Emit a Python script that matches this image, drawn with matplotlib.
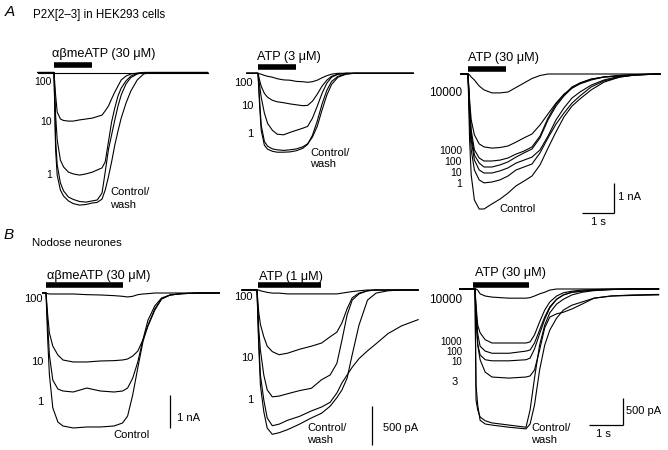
import matplotlib.pyplot as plt

plt.rcParams['font.family'] = ['Liberation Sans', 'DejaVu Sans']

W, H = 668, 450

# ---- data: time from agonist onset (s), current (nA) ----
# A  P2X[2-3] in HEK293 cells
# A1 alpha,beta-meATP 30 uM
t_a1 = [-0.5, 0, 0.05, 0.1, 0.2, 0.3, 0.45, 0.6, 0.8, 1.0, 1.2, 1.35, 1.5, 1.6, 1.7,
        1.8, 1.9, 2.0, 2.1, 2.25, 2.4, 2.6, 2.8, 3.0, 3.5, 4.8]
a1_100 = [0] * 26
a1_10 = [0, 0, -0.75, -1.32, -1.55, -1.6, -1.62, -1.62, -1.58, -1.55, -1.52, -1.47, -1.42,
         -1.28, -1.12, -0.88, -0.65, -0.45, -0.25, -0.12, -0.05, -0.02, 0, 0, 0, 0]
a1_1 = [0, 0, -1.42, -2.25, -2.92, -3.15, -3.32, -3.38, -3.42, -3.38, -3.32, -3.25, -3.18,
        -2.98, -2.32, -1.65, -1.18, -0.78, -0.52, -0.28, -0.12, -0.03, 0, 0, 0, 0]
a1_control = [0, 0, -2.58, -3.42, -3.92, -4.12, -4.28, -4.37, -4.42, -4.4, -4.35, -4.33, -4.22,
              -3.92, -3.48, -2.98, -2.42, -1.95, -1.52, -1.02, -0.62, -0.25, -0.05, 0, 0, 0]
a1_wash = [0, 0, -2.25, -3.08, -3.68, -3.95, -4.15, -4.23, -4.3, -4.32, -4.28, -4.25, -4.02,
           -3.32, -2.58, -2.08, -1.58, -1.12, -0.75, -0.38, -0.17, -0.05, 0, 0, 0, 0]

# A2 ATP 3 uM
t_a2 = [-0.35, 0, 0.05, 0.1, 0.2, 0.3, 0.45, 0.6, 0.8, 1.0, 1.2, 1.4, 1.55, 1.7, 1.85,
        2.0, 2.15, 2.3, 2.5, 2.75, 3.0, 4.85]
a2_100 = [0, 0, -0.02, -0.03, -0.07, -0.1, -0.13, -0.18, -0.22, -0.23, -0.27, -0.28, -0.3,
          -0.28, -0.23, -0.15, -0.08, -0.03, 0, 0, 0, 0]
a2_10 = [0, 0, -0.23, -0.43, -0.67, -0.8, -0.9, -0.95, -0.98, -1.02, -1.05, -1.08, -1.07,
         -0.93, -0.7, -0.43, -0.23, -0.1, -0.03, 0, 0, 0]
a2_1 = [0, 0, -0.4, -0.8, -1.33, -1.67, -1.9, -2.03, -2.05, -1.97, -1.9, -1.83, -1.77,
        -1.5, -1.1, -0.67, -0.33, -0.13, -0.03, 0, 0, 0]
a2_control = [0, 0, -1.07, -1.9, -2.4, -2.53, -2.6, -2.63, -2.63, -2.62, -2.58, -2.5, -2.37,
              -2.07, -1.6, -1.03, -0.57, -0.27, -0.1, -0.02, 0, 0]
a2_wash = [0, 0, -0.9, -1.73, -2.27, -2.43, -2.52, -2.55, -2.57, -2.55, -2.52, -2.45, -2.35,
           -2.13, -1.77, -1.23, -0.73, -0.37, -0.13, -0.03, 0, 0]

# A3 ATP 30 uM
t_a3 = [-0.22, 0, 0.05, 0.1, 0.2, 0.35, 0.5, 0.75, 1.0, 1.25, 1.5, 1.75, 2.0, 2.25, 2.5,
        2.75, 3.0, 3.25, 3.5, 3.85, 4.25, 4.75, 5.25, 6.0]
a3_10000 = [0, 0, -0.03, -0.1, -0.2, -0.4, -0.53, -0.63, -0.63, -0.6, -0.45, -0.3, -0.15,
            -0.05, 0, 0, 0, 0, 0, 0, 0, 0, 0, 0]
a3_1000 = [0, 0, -0.87, -1.53, -2.03, -2.33, -2.43, -2.47, -2.45, -2.4, -2.27, -2.13, -2.0,
           -1.7, -1.33, -0.97, -0.67, -0.47, -0.3, -0.17, -0.1, -0.07, -0.03, 0]
a3_100 = [0, 0, -1.2, -2.03, -2.7, -2.97, -3.1, -3.1, -3.03, -2.93, -2.77, -2.63, -2.5,
          -2.13, -1.53, -1.07, -0.73, -0.47, -0.33, -0.2, -0.1, -0.05, -0.02, 0]
a3_wash = [0, 0, -1.03, -1.87, -2.53, -2.8, -2.9, -2.9, -2.87, -2.8, -2.67, -2.57, -2.43,
           -2.07, -1.47, -1.0, -0.7, -0.43, -0.3, -0.17, -0.1, -0.05, -0.02, 0]
a3_10 = [0, 0, -1.37, -2.2, -2.87, -3.2, -3.3, -3.3, -3.23, -3.13, -2.97, -2.87, -2.77,
         -2.53, -2.07, -1.53, -1.13, -0.8, -0.6, -0.37, -0.2, -0.07, -0.03, 0]
a3_1 = [0, 0, -1.53, -2.53, -3.2, -3.53, -3.63, -3.6, -3.53, -3.4, -3.2, -3.1, -3.0,
        -2.63, -2.13, -1.67, -1.3, -0.97, -0.73, -0.43, -0.23, -0.1, -0.03, 0]
a3_control = [0, 0, -2.2, -3.37, -4.2, -4.5, -4.5, -4.33, -4.17, -3.97, -3.73, -3.57, -3.4,
              -3.03, -2.47, -1.93, -1.43, -1.07, -0.83, -0.53, -0.27, -0.1, -0.03, 0]

# B  Nodose neurones
# B1 alpha,beta-meATP 30 uM
t_b1 = [-0.1, 0, 0.05, 0.1, 0.2, 0.35, 0.5, 0.8, 1.2, 1.6, 2.0, 2.25, 2.4, 2.55, 2.7,
        2.85, 3.0, 3.2, 3.4, 3.65, 4.0, 4.5, 5.1]
b1_100 = [0, 0, -0.02, -0.03, -0.03, -0.03, -0.03, -0.03, -0.05, -0.06, -0.08, -0.1, -0.12,
          -0.1, -0.05, -0.03, -0.02, 0, 0, 0, 0, 0, 0]
b1_10 = [0, 0, -0.67, -1.21, -1.61, -1.88, -2.03, -2.09, -2.09, -2.06, -2.05, -2.03, -2.0,
         -1.91, -1.76, -1.42, -1.0, -0.52, -0.18, -0.06, -0.02, 0, 0]
b1_1 = [0, 0, -0.97, -1.88, -2.64, -2.91, -2.97, -3.0, -2.88, -2.97, -3.0, -2.97, -2.88,
        -2.58, -2.09, -1.42, -0.82, -0.39, -0.15, -0.06, -0.02, 0, 0]
b1_control = [0, 0, -1.42, -2.48, -3.48, -3.91, -4.03, -4.09, -4.06, -4.06, -4.03, -3.94, -3.73,
              -3.09, -2.27, -1.48, -0.97, -0.48, -0.18, -0.06, -0.02, 0, 0]

# B2 ATP 1 uM
t_b2 = [-0.44, 0, 0.05, 0.1, 0.2, 0.3, 0.45, 0.65, 0.9, 1.25, 1.6, 1.9, 2.15, 2.35, 2.5,
        2.65, 2.8, 3.0, 3.25, 3.5, 3.85, 4.25, 4.74]
b2_100 = [0, 0, 0, -0.01, -0.02, -0.03, -0.04, -0.04, -0.05, -0.05, -0.05, -0.05, -0.05,
          -0.05, -0.04, -0.03, -0.02, -0.01, 0, 0, 0, 0, 0]
b2_10 = [0, 0, -0.28, -0.44, -0.6, -0.72, -0.79, -0.83, -0.81, -0.76, -0.72, -0.68, -0.6,
         -0.54, -0.42, -0.24, -0.1, -0.04, -0.01, 0, 0, 0, 0]
b2_1 = [0, 0, -0.49, -0.77, -1.09, -1.28, -1.37, -1.36, -1.33, -1.29, -1.26, -1.15, -1.09,
        -0.94, -0.64, -0.32, -0.13, -0.05, -0.01, 0, 0, 0, 0]
b2_control = [0, 0, -0.64, -1.09, -1.41, -1.64, -1.74, -1.72, -1.67, -1.62, -1.55, -1.5, -1.44,
              -1.32, -1.19, -1.09, -0.99, -0.88, -0.78, -0.69, -0.56, -0.46, -0.38]
b2_wash = [0, 0, -0.71, -1.22, -1.56, -1.77, -1.85, -1.83, -1.79, -1.72, -1.64, -1.58, -1.49,
           -1.38, -1.28, -1.13, -0.83, -0.45, -0.13, -0.04, -0.01, 0, 0]

# B3 ATP 30 uM
t_b3 = [-0.45, 0, 0.03, 0.08, 0.15, 0.3, 0.5, 1.0, 1.5, 1.62, 1.75, 1.9, 2.05, 2.2, 2.4,
        2.6, 2.85, 3.15, 3.5, 4.0, 4.6, 5.4]
b3_10000 = [0, 0, 0, -0.02, -0.09, -0.13, -0.15, -0.17, -0.17, -0.16, -0.13, -0.09, -0.06,
            -0.02, 0, 0, 0, 0, 0, 0, 0, 0]
b3_1000 = [0, 0, -0.3, -0.67, -0.81, -0.94, -1.0, -1.0, -1.0, -0.98, -0.85, -0.61, -0.39,
           -0.24, -0.13, -0.07, -0.04, -0.02, -0.01, 0, 0, 0]
b3_100 = [0, 0, -0.37, -0.83, -1.06, -1.15, -1.19, -1.19, -1.15, -1.13, -1.0, -0.76, -0.52,
          -0.33, -0.19, -0.11, -0.06, -0.04, -0.02, -0.01, 0, 0]
b3_10 = [0, 0, -0.46, -1.02, -1.22, -1.31, -1.33, -1.33, -1.31, -1.28, -1.11, -0.83, -0.56,
         -0.35, -0.19, -0.11, -0.06, -0.04, -0.02, -0.01, 0, 0]
b3_3 = [0, 0, -0.57, -1.04, -1.31, -1.54, -1.63, -1.65, -1.63, -1.61, -1.5, -1.13, -0.72,
        -0.52, -0.46, -0.43, -0.37, -0.28, -0.17, -0.13, -0.12, -0.11]
b3_control = [0, 0, -2.06, -2.24, -2.37, -2.44, -2.48, -2.52, -2.56, -2.24, -1.65, -1.04, -0.67,
              -0.44, -0.28, -0.19, -0.11, -0.06, -0.03, -0.01, 0, 0]
b3_wash = [0, 0, -1.78, -2.15, -2.43, -2.5, -2.52, -2.56, -2.59, -2.5, -2.15, -1.5, -1.04,
           -0.76, -0.54, -0.39, -0.3, -0.24, -0.17, -0.13, -0.11, -0.1]

# agonist application (s)
app_a = (0, 1.2)
app_b1 = (0, 2.25)
app_b2 = (0.03, 1.88)
app_b3 = (-0.06, 1.6)

fig = plt.figure(figsize=(W / 100, H / 100), dpi=100)


def panel(x0, x1, y0, y1, onset, base, px_s, px_na):
    # axes placed in pixel box, scaled so that onset/baseline land where they should
    ax = fig.add_axes([x0 / W, 1 - y1 / H, (x1 - x0) / W, (y1 - y0) / H])
    ax.set_xlim((x0 - onset) / px_s, (x1 - onset) / px_s)
    ax.set_ylim(-(y1 - base) / px_na, -(y0 - base) / px_na)
    ax.axis('off')
    return ax


def to_data(ax, x, y):
    return ax.transData.inverted().transform((x, H - y))


def traces(ax, t, series):
    for s in series:
        ax.plot(t, s, color='k', lw=0.8)


def drug_bar(ax, app, y_px):
    y = to_data(ax, 0, y_px)[1]
    ax.plot(app, [y, y], color='k', lw=4, solid_capstyle='butt')


def scale_bar(ax, x_px, y_px, na, sec=None):
    t0, i0 = to_data(ax, x_px, y_px)
    ax.plot([t0, t0], [i0, i0 + na], color='k', lw=0.9, solid_capstyle='butt')
    if sec:
        ax.plot([t0 - sec, t0], [i0, i0], color='k', lw=0.9, solid_capstyle='butt')


def label(x, y, s, ha='left', size=8, **kw):
    fig.text(x / W, 1 - y / H, s, ha=ha, va='center', fontsize=size, **kw)


# ---- row A ----
ax = panel(20, 222, 30, 230, 54, 72.5, 32, 30)
traces(ax, t_a1, [a1_100, a1_10, a1_1, a1_control, a1_wash])
drug_bar(ax, app_a, 65.5)

ax = panel(222, 440, 30, 230, 258, 73.3, 32, 30)
traces(ax, t_a2, [a2_100, a2_10, a2_1, a2_control, a2_wash])
drug_bar(ax, app_a, 66.5)

ax = panel(440, 668, 30, 230, 468, 74, 32, 30)
traces(ax, t_a3, [a3_10000, a3_1000, a3_100, a3_wash, a3_10, a3_1, a3_control])
drug_bar(ax, app_a, 69)
scale_bar(ax, 614, 213, 1, 1)

# ---- row B ----
ax = panel(20, 222, 255, 450, 46, 293, 34, 33)
traces(ax, t_b1, [b1_100, b1_10, b1_1, b1_control])
drug_bar(ax, app_b1, 285)
scale_bar(ax, 170, 428, 1)

ax = panel(222, 440, 255, 450, 257, 290, 34, 78)
traces(ax, t_b2, [b2_100, b2_10, b2_1, b2_control, b2_wash])
drug_bar(ax, app_b2, 284.5)
scale_bar(ax, 372, 445, 0.5)

ax = panel(440, 668, 255, 450, 475, 289, 34, 54)
traces(ax, t_b3, [b3_10000, b3_1000, b3_100, b3_10, b3_3, b3_control, b3_wash])
drug_bar(ax, app_b3, 284.5)
scale_bar(ax, 623, 425, 0.5, 1)

# ---- text ----
title_size = 9.2
label(5, 12, 'A', size=11, style='italic')
label(33, 15, 'P2X[2\u20133] in HEK293 cells', size=8.3)
label(52, 54, '\u03b1\u03b2meATP (30 \u03bcM)', size=title_size)
for s, y in [('100', 82), ('10', 122), ('1', 175)]:
    label(52, y, s, ha='right', size=7.5)
label(110, 192, 'Control/')
label(110, 205, 'wash')

label(257, 57, 'ATP (3 \u03bcM)', size=title_size)
for s, y in [('100', 83), ('10', 106), ('1', 134)]:
    label(253, y, s, ha='right', size=8)
label(310, 153, 'Control/')
label(310, 164, 'wash')

label(468, 58, 'ATP (30 \u03bcM)', size=title_size)
label(462, 93, '10000', ha='right', size=8.5)
for s, y in [('1000', 151), ('100', 162), ('10', 173), ('1', 184)]:
    label(462, y, s, ha='right', size=7.5)
label(499, 209, 'Control')
label(618, 197, '1 nA')
label(598, 222, '1 s', ha='center')

label(4, 235, 'B', size=11, style='italic')
label(32, 243, 'Nodose neurones', size=8.2)
label(47, 276, '\u03b1\u03b2meATP (30 \u03bcM)', size=title_size)
for s, y in [('100', 299), ('10', 362), ('1', 402)]:
    label(43, y, s, ha='right', size=8)
label(113, 435, 'Control')
label(177, 418, '1 nA')

label(259, 277, 'ATP (1 \u03bcM)', size=title_size)
for s, y in [('100', 297), ('10', 358), ('1', 400)]:
    label(253, y, s, ha='right', size=8)
label(307, 428, 'Control/')
label(307, 440, 'wash')
label(383, 428, '500 pA')

label(475, 273, 'ATP (30 \u03bcM)', size=title_size)
label(462, 300, '10000', ha='right', size=8.5)
for s, y in [('1000', 342), ('100', 352), ('10', 362)]:
    label(462, y, s, ha='right', size=7)
label(458, 382, '3', ha='right', size=8)
label(531, 428, 'Control/')
label(531, 440, 'wash')
label(626, 411, '500 pA')
label(603, 434, '1 s', ha='center')

fig.savefig('out.png', dpi=100)
